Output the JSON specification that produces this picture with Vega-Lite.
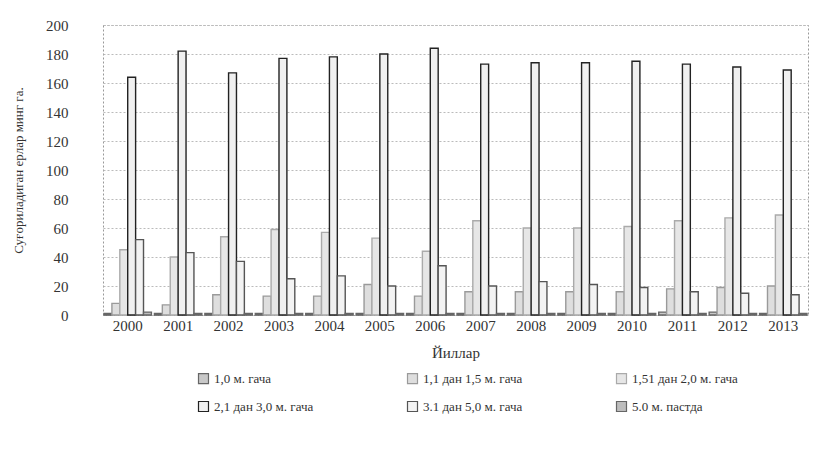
{
  "$schema": "https://vega.github.io/schema/vega-lite/v6.json",
  "autosize": {"type": "none"},
  "padding": {"left": 103, "top": 25, "right": 10, "bottom": 147},
  "width": 705,
  "height": 290,
  "background": "white",
  "config": {
    "font": "Liberation Serif",
    "view": {"stroke": "#999", "strokeDash": [2, 2], "strokeWidth": 1},
    "axis": {"labelColor": "#333", "titleColor": "#333", "labelFont": "Liberation Serif", "titleFont": "Liberation Serif", "titleFontWeight": "normal"},
    "legend": {"labelColor": "#333", "labelFont": "Liberation Serif"}
  },
  "data": {
    "values": [
      {"year": "2000", "series": "1,0 м. гача", "value": 1},
      {"year": "2000", "series": "1,1 дан 1,5 м. гача", "value": 8},
      {"year": "2000", "series": "1,51 дан 2,0 м. гача", "value": 45},
      {"year": "2000", "series": "2,1 дан 3,0 м. гача", "value": 164},
      {"year": "2000", "series": "3.1 дан 5,0 м. гача", "value": 52},
      {"year": "2000", "series": "5.0 м. пастда", "value": 2},
      {"year": "2001", "series": "1,0 м. гача", "value": 1},
      {"year": "2001", "series": "1,1 дан 1,5 м. гача", "value": 7},
      {"year": "2001", "series": "1,51 дан 2,0 м. гача", "value": 40},
      {"year": "2001", "series": "2,1 дан 3,0 м. гача", "value": 182},
      {"year": "2001", "series": "3.1 дан 5,0 м. гача", "value": 43},
      {"year": "2001", "series": "5.0 м. пастда", "value": 1},
      {"year": "2002", "series": "1,0 м. гача", "value": 1},
      {"year": "2002", "series": "1,1 дан 1,5 м. гача", "value": 14},
      {"year": "2002", "series": "1,51 дан 2,0 м. гача", "value": 54},
      {"year": "2002", "series": "2,1 дан 3,0 м. гача", "value": 167},
      {"year": "2002", "series": "3.1 дан 5,0 м. гача", "value": 37},
      {"year": "2002", "series": "5.0 м. пастда", "value": 1},
      {"year": "2003", "series": "1,0 м. гача", "value": 1},
      {"year": "2003", "series": "1,1 дан 1,5 м. гача", "value": 13},
      {"year": "2003", "series": "1,51 дан 2,0 м. гача", "value": 59},
      {"year": "2003", "series": "2,1 дан 3,0 м. гача", "value": 177},
      {"year": "2003", "series": "3.1 дан 5,0 м. гача", "value": 25},
      {"year": "2003", "series": "5.0 м. пастда", "value": 1},
      {"year": "2004", "series": "1,0 м. гача", "value": 1},
      {"year": "2004", "series": "1,1 дан 1,5 м. гача", "value": 13},
      {"year": "2004", "series": "1,51 дан 2,0 м. гача", "value": 57},
      {"year": "2004", "series": "2,1 дан 3,0 м. гача", "value": 178},
      {"year": "2004", "series": "3.1 дан 5,0 м. гача", "value": 27},
      {"year": "2004", "series": "5.0 м. пастда", "value": 1},
      {"year": "2005", "series": "1,0 м. гача", "value": 1},
      {"year": "2005", "series": "1,1 дан 1,5 м. гача", "value": 21},
      {"year": "2005", "series": "1,51 дан 2,0 м. гача", "value": 53},
      {"year": "2005", "series": "2,1 дан 3,0 м. гача", "value": 180},
      {"year": "2005", "series": "3.1 дан 5,0 м. гача", "value": 20},
      {"year": "2005", "series": "5.0 м. пастда", "value": 1},
      {"year": "2006", "series": "1,0 м. гача", "value": 1},
      {"year": "2006", "series": "1,1 дан 1,5 м. гача", "value": 13},
      {"year": "2006", "series": "1,51 дан 2,0 м. гача", "value": 44},
      {"year": "2006", "series": "2,1 дан 3,0 м. гача", "value": 184},
      {"year": "2006", "series": "3.1 дан 5,0 м. гача", "value": 34},
      {"year": "2006", "series": "5.0 м. пастда", "value": 1},
      {"year": "2007", "series": "1,0 м. гача", "value": 1},
      {"year": "2007", "series": "1,1 дан 1,5 м. гача", "value": 16},
      {"year": "2007", "series": "1,51 дан 2,0 м. гача", "value": 65},
      {"year": "2007", "series": "2,1 дан 3,0 м. гача", "value": 173},
      {"year": "2007", "series": "3.1 дан 5,0 м. гача", "value": 20},
      {"year": "2007", "series": "5.0 м. пастда", "value": 1},
      {"year": "2008", "series": "1,0 м. гача", "value": 1},
      {"year": "2008", "series": "1,1 дан 1,5 м. гача", "value": 16},
      {"year": "2008", "series": "1,51 дан 2,0 м. гача", "value": 60},
      {"year": "2008", "series": "2,1 дан 3,0 м. гача", "value": 174},
      {"year": "2008", "series": "3.1 дан 5,0 м. гача", "value": 23},
      {"year": "2008", "series": "5.0 м. пастда", "value": 1},
      {"year": "2009", "series": "1,0 м. гача", "value": 1},
      {"year": "2009", "series": "1,1 дан 1,5 м. гача", "value": 16},
      {"year": "2009", "series": "1,51 дан 2,0 м. гача", "value": 60},
      {"year": "2009", "series": "2,1 дан 3,0 м. гача", "value": 174},
      {"year": "2009", "series": "3.1 дан 5,0 м. гача", "value": 21},
      {"year": "2009", "series": "5.0 м. пастда", "value": 1},
      {"year": "2010", "series": "1,0 м. гача", "value": 1},
      {"year": "2010", "series": "1,1 дан 1,5 м. гача", "value": 16},
      {"year": "2010", "series": "1,51 дан 2,0 м. гача", "value": 61},
      {"year": "2010", "series": "2,1 дан 3,0 м. гача", "value": 175},
      {"year": "2010", "series": "3.1 дан 5,0 м. гача", "value": 19},
      {"year": "2010", "series": "5.0 м. пастда", "value": 1},
      {"year": "2011", "series": "1,0 м. гача", "value": 2},
      {"year": "2011", "series": "1,1 дан 1,5 м. гача", "value": 18},
      {"year": "2011", "series": "1,51 дан 2,0 м. гача", "value": 65},
      {"year": "2011", "series": "2,1 дан 3,0 м. гача", "value": 173},
      {"year": "2011", "series": "3.1 дан 5,0 м. гача", "value": 16},
      {"year": "2011", "series": "5.0 м. пастда", "value": 1},
      {"year": "2012", "series": "1,0 м. гача", "value": 2},
      {"year": "2012", "series": "1,1 дан 1,5 м. гача", "value": 19},
      {"year": "2012", "series": "1,51 дан 2,0 м. гача", "value": 67},
      {"year": "2012", "series": "2,1 дан 3,0 м. гача", "value": 171},
      {"year": "2012", "series": "3.1 дан 5,0 м. гача", "value": 15},
      {"year": "2012", "series": "5.0 м. пастда", "value": 1},
      {"year": "2013", "series": "1,0 м. гача", "value": 1},
      {"year": "2013", "series": "1,1 дан 1,5 м. гача", "value": 20},
      {"year": "2013", "series": "1,51 дан 2,0 м. гача", "value": 69},
      {"year": "2013", "series": "2,1 дан 3,0 м. гача", "value": 169},
      {"year": "2013", "series": "3.1 дан 5,0 м. гача", "value": 14},
      {"year": "2013", "series": "5.0 м. пастда", "value": 1}
    ]
  },
  "mark": {"type": "bar", "strokeWidth": 1.4},
  "encoding": {
    "x": {
      "field": "year", "type": "nominal", "title": "Йиллар",
      "scale": {"paddingInner": 0.06, "paddingOuter": 0.02},
      "axis": {"labelAngle": 0, "labelFontSize": 15, "titleFontSize": 15, "ticks": false, "domain": false, "labelPadding": 3, "titlePadding": 12}
    },
    "xOffset": {"field": "series", "type": "nominal", "sort": null, "scale": {"paddingInner": 0, "paddingOuter": 0}},
    "y": {
      "field": "value", "type": "quantitative",
      "title": "Суғориладиган ерлар минг га.",
      "scale": {"domain": [0, 200], "nice": false},
      "axis": {"values": [0, 20, 40, 60, 80, 100, 120, 140, 160, 180, 200], "labelFontSize": 15, "titleFontSize": 13, "ticks": false, "domain": false, "labelPadding": 35, "titlePadding": 20, "gridColor": "#bbb", "gridDash": [2, 2], "gridWidth": 1}
    },
    "fill": {
      "field": "series", "type": "nominal", "sort": null,
      "scale": {"range": ["#c8c8c8", "#dedede", "#e6e6e6", "#f0f0f0", "#f3f3f3", "#bdbdbd"]},
      "legend": {"title": null, "orient": "none", "direction": "horizontal", "legendX": 94, "legendY": 347, "columns": 3, "gridAlign": "all", "columnPadding": 85, "rowPadding": 13, "symbolType": "square", "symbolSize": 100, "symbolStrokeWidth": 1.2, "labelFontSize": 13, "labelLimit": 200}
    },
    "stroke": {
      "field": "series", "type": "nominal", "sort": null,
      "scale": {"range": ["#666", "#9a9a9a", "#aaaaaa", "#222", "#555", "#666"]}
    }
  }
}
